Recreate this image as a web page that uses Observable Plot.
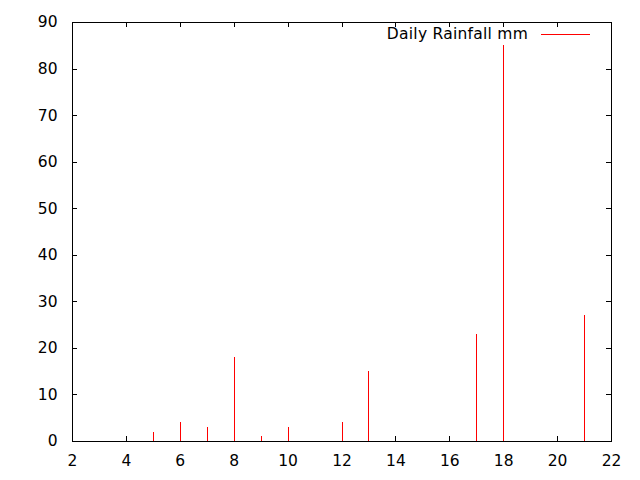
<!DOCTYPE html>
<html>
<head>
<meta charset="utf-8">
<script src="https://cdn.jsdelivr.net/npm/d3@7"></script>
<script src="https://cdn.jsdelivr.net/npm/@observablehq/plot@0.6"></script>
<style>
  html, body { margin: 0; padding: 0; background: #fff; }
  #wrap { position: relative; width: 640px; height: 480px; }
  #legend { position: absolute; right: 50px; top: 25px; font: 15.5px "DejaVu Sans", sans-serif; letter-spacing: 0.25px; color: #000; display: flex; align-items: center; }
  #legend .swatch { display: inline-block; width: 49px; height: 0; border-top: 1px solid #ff0000; margin-left: 13px; }
</style>
</head>
<body>
<div id="wrap"></div>
<script>
const days = [5, 6, 7, 8, 9, 10, 12, 13, 17, 18, 21];
const rainfall = [2, 4, 3, 18, 1, 3, 4, 15, 23, 85, 27];
const xTicks = [2, 4, 6, 8, 10, 12, 14, 16, 18, 20, 22];
const yTicks = [0, 10, 20, 30, 40, 50, 60, 70, 80, 90];
const seriesName = "Daily Rainfall mm";

const data = days.map((d, i) => ({day: d, mm: rainfall[i]}));

const W = 640, H = 480, mL = 72, mR = 29, mT = 22, mB = 39;
const iw = W - mL - mR, ih = H - mT - mB, tk = 5;

const chart = Plot.plot({
  width: W, height: H,
  marginLeft: mL, marginRight: mR, marginTop: mT, marginBottom: mB,
  style: {fontFamily: "DejaVu Sans, sans-serif", fontSize: "15.5px", color: "#000", background: "#fff"},
  x: {domain: [2, 22], ticks: xTicks, label: null},
  y: {domain: [0, 90], ticks: yTicks, label: null},
  marks: [
    Plot.axisX(xTicks, {anchor: "bottom", tickSize: 0, tickPadding: 13, label: null}),
    Plot.axisY(yTicks, {anchor: "left", tickSize: 0, tickPadding: 15, label: null}),
    Plot.tickX(xTicks, {x: d => d, insetTop: ih - tk, stroke: "#000", shapeRendering: "crispEdges"}),
    Plot.tickX(xTicks, {x: d => d, insetBottom: ih - tk, stroke: "#000", shapeRendering: "crispEdges"}),
    Plot.tickY(yTicks, {y: d => d, insetRight: iw - tk, stroke: "#000", shapeRendering: "crispEdges"}),
    Plot.tickY(yTicks, {y: d => d, insetLeft: iw - tk, stroke: "#000", shapeRendering: "crispEdges"}),
    Plot.ruleX(data, {x: "day", y1: 0, y2: "mm", stroke: "#ff0000", strokeWidth: 1, shapeRendering: "crispEdges"}),
    Plot.frame({stroke: "#000", shapeRendering: "crispEdges"})
  ]
});

const wrap = document.getElementById("wrap");
wrap.appendChild(chart);
const legend = document.createElement("div");
legend.id = "legend";
legend.innerHTML = `<span>${seriesName}</span><span class="swatch"></span>`;
wrap.appendChild(legend);
</script>
</body>
</html>
